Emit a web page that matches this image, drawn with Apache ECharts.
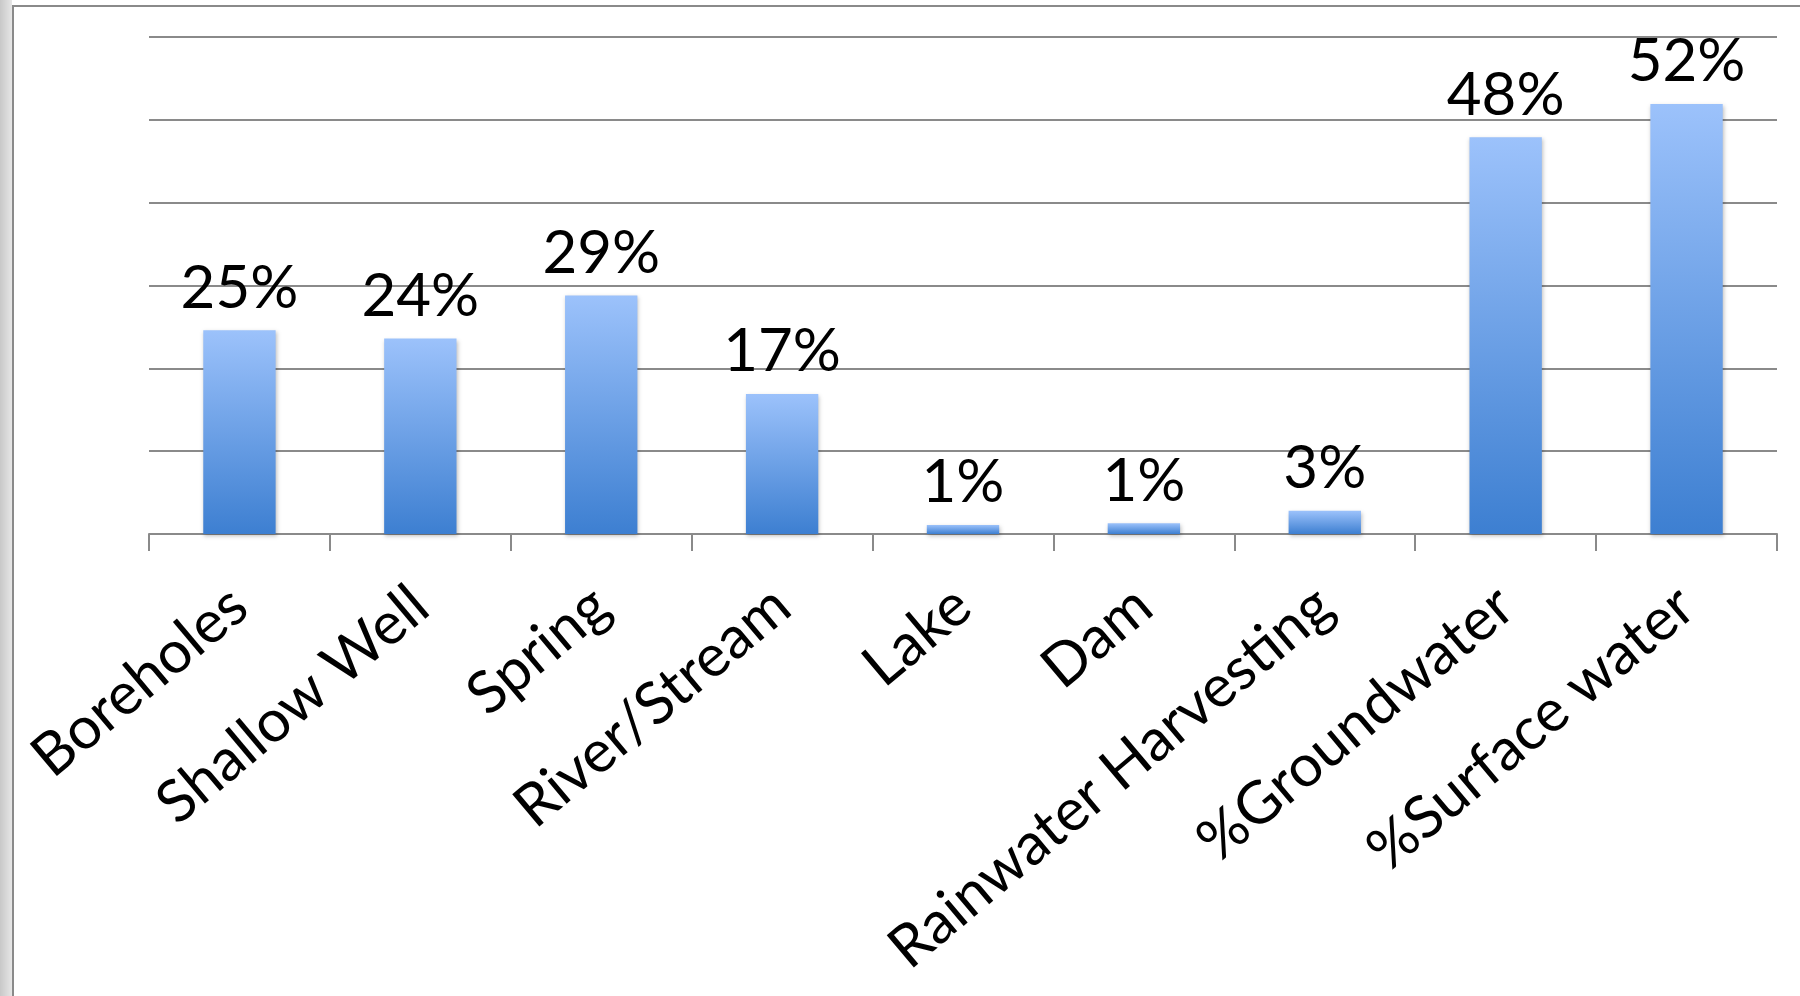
<!DOCTYPE html>
<html>
<head>
<meta charset="utf-8">
<script src="https://cdn.jsdelivr.net/npm/echarts@6/dist/echarts.min.js"></script>
<style>
html,body{margin:0;padding:0;width:1800px;height:996px;overflow:hidden;background:#fff;}
#shade{position:absolute;left:0;top:0;width:12px;height:996px;background:linear-gradient(to right,#c8c8c8,#e6e6e6);}
#frame{position:absolute;left:12px;top:5px;width:1800px;height:1000px;border-left:2px solid #8a8a8a;border-top:2px solid #8a8a8a;}
#chart{position:absolute;left:0;top:0;width:1800px;height:996px;}
</style>
</head>
<body>
<div id="shade"></div>
<div id="frame"></div>
<div id="chart"></div>
<script>
const categories = ['Boreholes','Shallow Well','Spring','River/Stream','Lake','Dam','Rainwater Harvesting','%Groundwater','%Surface water'];
const values = [24.6, 23.6, 28.8, 16.9, 1.1, 1.3, 2.8, 47.9, 51.9];
const valueLabels = ['25%','24%','29%','17%','1%','1%','3%','48%','52%'];

const chart = echarts.init(document.getElementById('chart'), null, {renderer:'canvas'});
chart.setOption({
  animation:false,
  grid:{left:149, right:23, top:37, bottom:462, containLabel:false, outerBoundsMode:'none'},
  xAxis:{
    type:'category',
    data:categories,
    axisLine:{lineStyle:{color:'#8a8a8a', width:2}},
    axisTick:{show:true, alignWithLabel:false, length:17, lineStyle:{color:'#8a8a8a', width:2}},
    axisLabel:{rotate:40, interval:0, margin:64, color:'#000', fontSize:59, fontFamily:'Lato, "Open Sans", sans-serif'}
  },
  yAxis:{
    type:'value', min:0, max:60, interval:10,
    axisLine:{show:false}, axisTick:{show:false}, axisLabel:{show:false},
    splitLine:{lineStyle:{color:'#8a8a8a', width:2}}
  },
  series:[{
    type:'bar',
    data:values,
    barWidth:'40%',
    itemStyle:{
      color:new echarts.graphic.LinearGradient(0,0,0,1,[{offset:0,color:'#9cc2fb'},{offset:1,color:'#3d7fd1'}]),
      shadowColor:'rgba(0,0,0,0.25)', shadowBlur:4, shadowOffsetX:1, shadowOffsetY:2
    },
    label:{
      show:true, position:'top', distance:12,
      color:'#000', fontSize:60, fontFamily:'Lato, "Open Sans", sans-serif',
      formatter:(p)=>valueLabels[p.dataIndex]
    }
  }]
});
</script>
</body>
</html>
